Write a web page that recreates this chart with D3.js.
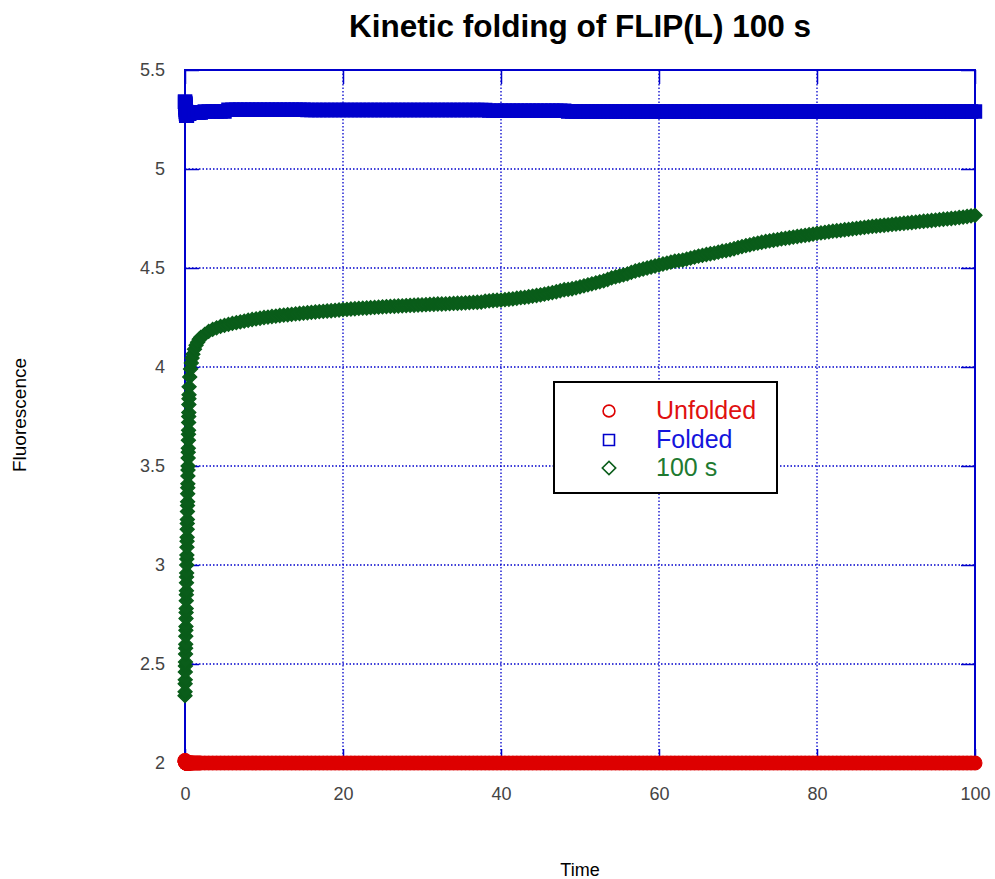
<!DOCTYPE html>
<html>
<head>
<meta charset="utf-8">
<script src="https://cdn.jsdelivr.net/npm/d3@7"></script>
<style>
  html, body { margin: 0; padding: 0; background: #fff; }
  svg { display: block; }
  text { font-family: "Liberation Sans", Arial, sans-serif; }
</style>
</head>
<body>
<svg id="chart" width="995" height="879"></svg>
<script>
// ---------------- DATA ----------------
const title = "Kinetic folding of FLIP(L) 100 s";
const xLabel = "Time";
const yLabel = "Fluorescence";
const xTicks = [0, 20, 40, 60, 80, 100];
const xTickLabels = ["0", "20", "40", "60", "80", "100"];
const yTicks = [2, 2.5, 3, 3.5, 4, 4.5, 5, 5.5];
const yTickLabels = ["2", "2.5", "3", "3.5", "4", "4.5", "5", "5.5"];
const seriesNames = ["Unfolded", "Folded", "100 s"];

const times = [
  0,0.01,0.02,0.03,0.04,0.05,0.06,0.07,0.08,0.09,0.1,0.11,0.12,0.13,0.14,0.15,0.16,0.17,0.18,0.19,0.2,0.21,0.22,0.23,0.24,0.25,0.26,
  0.27,0.28,0.29,0.3,0.31,0.32,0.33,0.34,0.35,0.36,0.37,0.38,0.39,0.4,0.41,0.42,0.43,0.44,0.45,0.46,0.47,0.48,0.49,0.5,0.51,0.52,
  0.6,0.7,0.8,0.9,1,1.2,1.4,1.6,1.8,2,
  2.5,3,3.5,4,4.5,5,5.5,6,6.5,7,7.5,8,8.5,9,9.5,10,10.5,11,11.5,12,
  12.5,13,13.5,14,14.5,15,15.5,16,16.5,17,17.5,18,18.5,19,19.5,20,20.5,21,21.5,22,
  22.5,23,23.5,24,24.5,25,25.5,26,26.5,27,27.5,28,28.5,29,29.5,30,30.5,31,31.5,32,
  32.5,33,33.5,34,34.5,35,35.5,36,36.5,37,37.5,38,38.5,39,39.5,40,40.5,41,41.5,42,
  42.5,43,43.5,44,44.5,45,45.5,46,46.5,47,47.5,48,48.5,49,49.5,50,50.5,51,51.5,52,
  52.5,53,53.5,54,54.5,55,55.5,56,56.5,57,57.5,58,58.5,59,59.5,60,60.5,61,61.5,62,
  62.5,63,63.5,64,64.5,65,65.5,66,66.5,67,67.5,68,68.5,69,69.5,70,70.5,71,71.5,72,
  72.5,73,73.5,74,74.5,75,75.5,76,76.5,77,77.5,78,78.5,79,79.5,80,80.5,81,81.5,82,
  82.5,83,83.5,84,84.5,85,85.5,86,86.5,87,87.5,88,88.5,89,89.5,90,90.5,91,91.5,92,
  92.5,93,93.5,94,94.5,95,95.5,96,96.5,97,97.5,98,98.5,99,99.5,100
];

const unfolded = [
  2.012,2.011,2.01,2.009,2.008,2.007,2.006,2.005,2.004,2.003,2.002,2.001,2,2,2,2,2,2,2,2,2,2,2,2,2,2,2,
  2,2,2,2,2,2,2,2,2,2,2,2,2,2,2,2,2,2,2,2,2,2,2,2,2,2,
  2,2,2,2,2,2,2,2,2,2,
  2,2,2,2,2,2,2,2,2,2,2,2,2,2,2,2,2,2,2,2,
  2,2,2,2,2,2,2,2,2,2,2,2,2,2,2,2,2,2,2,2,
  2,2,2,2,2,2,2,2,2,2,2,2,2,2,2,2,2,2,2,2,
  2,2,2,2,2,2,2,2,2,2,2,2,2,2,2,2,2,2,2,2,
  2,2,2,2,2,2,2,2,2,2,2,2,2,2,2,2,2,2,2,2,
  2,2,2,2,2,2,2,2,2,2,2,2,2,2,2,2,2,2,2,2,
  2,2,2,2,2,2,2,2,2,2,2,2,2,2,2,2,2,2,2,2,
  2,2,2,2,2,2,2,2,2,2,2,2,2,2,2,2,2,2,2,2,
  2,2,2,2,2,2,2,2,2,2,2,2,2,2,2,2,2,2,2,2,
  2,2,2,2,2,2,2,2,2,2,2,2,2,2,2,2
];

const folded = [
  5.34,5.34,5.33,5.33,5.33,5.32,5.32,5.31,5.31,5.3,5.3,5.29,5.29,5.28,5.28,5.27,5.27,5.27,5.27,5.27,5.27,5.27,5.28,5.28,5.28,5.27,5.28,
  5.28,5.28,5.28,5.28,5.28,5.28,5.28,5.28,5.28,5.28,5.28,5.28,5.28,5.28,5.28,5.28,5.28,5.28,5.28,5.28,5.28,5.28,5.28,5.28,5.28,5.28,
  5.285,5.285,5.285,5.285,5.285,5.285,5.285,5.285,5.285,5.285,
  5.29,5.29,5.29,5.29,5.29,5.29,5.3,5.3,5.3,5.3,5.3,5.3,5.3,5.3,5.3,5.3,5.3,5.3,5.3,5.3,
  5.3,5.3,5.3,5.3,5.3,5.3,5.298,5.298,5.298,5.298,5.298,5.298,5.298,5.298,5.298,5.298,5.298,5.298,5.298,5.298,
  5.298,5.298,5.298,5.298,5.298,5.298,5.298,5.298,5.298,5.298,5.298,5.298,5.298,5.298,5.298,5.298,5.298,5.298,5.298,5.298,
  5.298,5.298,5.298,5.298,5.298,5.298,5.298,5.298,5.298,5.298,5.298,5.298,5.295,5.295,5.295,5.295,5.295,5.295,5.295,5.295,
  5.295,5.295,5.295,5.295,5.295,5.295,5.295,5.295,5.295,5.295,5.295,5.295,5.29,5.29,5.29,5.29,5.29,5.29,5.29,5.29,
  5.29,5.29,5.29,5.29,5.29,5.29,5.29,5.29,5.29,5.29,5.29,5.29,5.29,5.29,5.29,5.29,5.29,5.29,5.29,5.29,
  5.29,5.29,5.29,5.29,5.29,5.29,5.29,5.29,5.29,5.29,5.29,5.29,5.29,5.29,5.29,5.29,5.29,5.29,5.29,5.29,
  5.29,5.29,5.29,5.29,5.29,5.29,5.29,5.29,5.29,5.29,5.29,5.29,5.29,5.29,5.29,5.29,5.29,5.29,5.29,5.29,
  5.29,5.29,5.29,5.29,5.29,5.29,5.29,5.29,5.29,5.29,5.29,5.29,5.29,5.29,5.29,5.29,5.29,5.29,5.29,5.29,
  5.29,5.29,5.29,5.29,5.29,5.29,5.29,5.29,5.29,5.29,5.29,5.29,5.29,5.29,5.29,5.29
];

const kinetic = [
  2.34,2.36,2.4,2.42,2.46,2.49,2.51,2.55,2.58,2.6,2.64,2.67,2.69,2.73,2.76,2.78,2.82,2.85,2.87,2.91,2.94,2.96,3,3.03,3.05,3.09,3.12,
  3.14,3.18,3.21,3.23,3.27,3.3,3.32,3.36,3.39,3.41,3.45,3.48,3.5,3.54,3.57,3.59,3.63,3.66,3.68,3.72,3.75,3.77,3.81,3.84,3.86,3.9,
  3.95,3.99,4.02,4.045,4.065,4.09,4.11,4.125,4.14,4.15,
  4.165,4.18,4.19,4.198,4.205,4.21,4.215,4.22,4.224,4.228,4.232,4.236,4.24,4.243,4.246,4.25,4.252,4.255,4.257,4.26,
  4.262,4.264,4.266,4.268,4.27,4.272,4.274,4.276,4.278,4.28,4.281,4.283,4.284,4.286,4.288,4.29,4.291,4.293,4.294,4.296,
  4.297,4.298,4.3,4.301,4.302,4.304,4.305,4.306,4.307,4.308,4.309,4.31,4.311,4.312,4.313,4.314,4.315,4.316,4.317,4.318,
  4.318,4.319,4.32,4.321,4.322,4.323,4.324,4.325,4.326,4.327,4.328,4.332,4.334,4.336,4.337,4.338,4.34,4.342,4.344,4.347,
  4.35,4.352,4.355,4.358,4.361,4.364,4.368,4.372,4.376,4.38,4.385,4.39,4.392,4.395,4.4,4.405,4.41,4.415,4.42,4.425,
  4.43,4.435,4.442,4.45,4.455,4.46,4.465,4.47,4.478,4.485,4.49,4.495,4.5,4.505,4.51,4.515,4.52,4.525,4.53,4.535,
  4.537,4.54,4.545,4.55,4.555,4.56,4.564,4.568,4.572,4.575,4.58,4.585,4.588,4.592,4.597,4.603,4.608,4.613,4.617,4.622,
  4.626,4.63,4.634,4.637,4.64,4.643,4.647,4.65,4.653,4.656,4.659,4.662,4.665,4.668,4.671,4.675,4.677,4.68,4.683,4.686,
  4.688,4.69,4.693,4.695,4.698,4.7,4.703,4.705,4.708,4.71,4.712,4.714,4.716,4.718,4.72,4.722,4.724,4.726,4.728,4.73,
  4.732,4.734,4.736,4.738,4.74,4.742,4.744,4.746,4.748,4.75,4.752,4.755,4.757,4.76,4.763,4.766
];

const colors = ["#dd0000", "#0000cc", "#0a5d1a"];
const textColors = ["#e01010", "#1515dd", "#207a30"];

// ---------------- CHART ----------------
const svg = d3.select("#chart");
const pLeft = 185, pRight = 975, pTop = 70, pBottom = 763;
const x = d3.scaleLinear().domain([0, 100]).range([pLeft, pRight]);
const y = d3.scaleLinear().domain([2, 5.5]).range([pBottom, pTop]);
const frameColor = "#0000cc";

// grid
const grid = svg.append("g");
grid.selectAll("line.gx").data(xTicks.slice(1, -1)).join("line")
  .attr("x1", d => x(d)).attr("x2", d => x(d)).attr("y1", pTop).attr("y2", pBottom)
  .attr("stroke", frameColor).attr("stroke-width", 1.3).attr("stroke-dasharray", "1.5,2");
grid.selectAll("line.gy").data(yTicks.slice(1, -1)).join("line")
  .attr("y1", d => y(d)).attr("y2", d => y(d)).attr("x1", pLeft).attr("x2", pRight)
  .attr("stroke", frameColor).attr("stroke-width", 1.3).attr("stroke-dasharray", "1.5,2");

// axes (ticks inward)
function styleAxis(g) {
  g.select(".domain").remove();
  g.selectAll(".tick line").attr("stroke", frameColor).attr("stroke-width", 1.5);
  g.selectAll(".tick text").attr("fill", "#444").style("font-size", "18px")
    .style("font-family", "'Liberation Sans', Arial, sans-serif");
}
svg.append("g").attr("transform", `translate(${pLeft},0)`)
  .call(d3.axisLeft(y).tickValues(yTicks).tickSize(-14).tickPadding(20)
    .tickFormat((d, i) => yTickLabels[i]))
  .call(styleAxis);
svg.append("g").attr("transform", `translate(${pRight},0)`)
  .call(d3.axisRight(y).tickValues(yTicks).tickSize(-14).tickFormat(""))
  .call(styleAxis);
svg.append("g").attr("transform", `translate(0,${pBottom})`)
  .call(d3.axisBottom(x).tickValues(xTicks).tickSize(-14).tickPadding(24)
    .tickFormat((d, i) => xTickLabels[i]))
  .call(styleAxis);
svg.append("g").attr("transform", `translate(0,${pTop})`)
  .call(d3.axisTop(x).tickValues(xTicks).tickSize(-14).tickFormat(""))
  .call(styleAxis);

// frame
svg.append("rect").attr("x", pLeft).attr("y", pTop)
  .attr("width", pRight - pLeft).attr("height", pBottom - pTop)
  .attr("fill", "none").attr("stroke", frameColor).attr("stroke-width", 2);

// markers (densely overlapping, drawn solid like the reference bands)
const shapes = [
  { gen: d3.symbol(d3.symbolCircle, 150), rot: 0 },
  { gen: d3.symbol(d3.symbolSquare, 175), rot: 0 },
  { gen: d3.symbol(d3.symbolSquare, 100), rot: 45 }
];
const valueSets = [unfolded, folded, kinetic];
valueSets.forEach((vals, si) => {
  const n = Math.min(vals.length, times.length);
  const pts = d3.range(n).map(i => ({ t: times[i], v: vals[i] }));
  svg.append("g").selectAll("path").data(pts).join("path")
    .attr("d", shapes[si].gen())
    .attr("transform", d => `translate(${x(d.t)},${y(d.v)}) rotate(${shapes[si].rot})`)
    .attr("fill", colors[si]).attr("stroke", colors[si]).attr("stroke-width", 1.2);
});

// legend
const lg = svg.append("g");
lg.append("rect").attr("x", 554).attr("y", 382).attr("width", 223).attr("height", 111)
  .attr("fill", "#fff").attr("stroke", "#000").attr("stroke-width", 2);
const legendRows = [411, 440, 468];
const legendShapes = [
  { gen: d3.symbol(d3.symbolCircle, 110), rot: 0 },
  { gen: d3.symbol(d3.symbolSquare, 120), rot: 0 },
  { gen: d3.symbol(d3.symbolSquare, 90), rot: 45 }
];
seriesNames.forEach((name, i) => {
  lg.append("path").attr("d", legendShapes[i].gen())
    .attr("transform", `translate(609,${legendRows[i]}) rotate(${legendShapes[i].rot})`)
    .attr("fill", "none").attr("stroke", colors[i]).attr("stroke-width", 1.6);
  lg.append("text").attr("x", 656).attr("y", legendRows[i] + 8)
    .attr("fill", textColors[i]).style("font-size", "25px").text(name);
});

// titles
svg.append("text").attr("x", 580).attr("y", 37).attr("text-anchor", "middle")
  .style("font-size", "31.5px").style("font-weight", "bold").attr("fill", "#000").text(title);
svg.append("text").attr("x", 580).attr("y", 876).attr("text-anchor", "middle")
  .style("font-size", "18px").attr("fill", "#000").text(xLabel);
svg.append("text").attr("transform", "translate(26,415) rotate(-90)").attr("text-anchor", "middle")
  .style("font-size", "19px").attr("fill", "#000").text(yLabel);
</script>
</body>
</html>
